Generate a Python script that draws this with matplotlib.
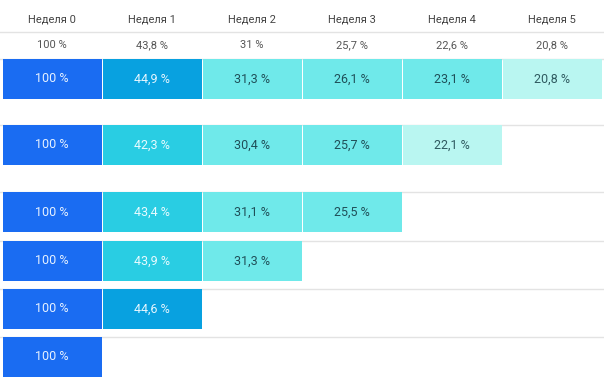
import matplotlib
matplotlib.use("Agg")
from matplotlib import pyplot as plt

# Data
# ------------------------------
weeks = ["Неделя 0", "Неделя 1", "Неделя 2", "Неделя 3", "Неделя 4", "Неделя 5"]
summary = [100, 43.8, 31, 25.7, 22.6, 20.8]
cohorts = [
    [100, 44.9, 31.3, 26.1, 23.1, 20.8],
    [100, 42.3, 30.4, 25.7, 22.1],
    [100, 43.4, 31.1, 25.5],
    [100, 43.9, 31.3],
    [100, 44.6],
    [100],
]

# Layout (pixel rows, the figure is 604x384)
row_tops = [59, 125, 192, 241, 289, 337]
bar_h = 40


def fmt(v):
    s = ("%g" % v).replace(".", ",")
    return s + " %"


def cell_style(v):
    """Return fill colour and text colour for a retention value."""
    if v >= 99:
        return "#1a6cf2", "#e6f1ff"
    if v >= 44.5:
        return "#08a1e0", "#e6f6ff"
    if v >= 35:
        return "#29cde3", "#e8fbff"
    if v >= 23:
        return "#6fe9ea", "#1f4f58"
    return "#b9f6f1", "#2f5a60"


plt.rcParams["font.family"] = ["Roboto", "DejaVu Sans"]

fig = plt.figure(figsize=(6.04, 3.84), dpi=100)
ax = fig.add_axes([0, 0, 1, 1])
ax.set_xlim(-0.02, 6.02)
ax.set_ylim(384, 0)
ax.axis("off")

# header and summary
for i, w in enumerate(weeks):
    ax.text(i + 0.5, 20, w, ha="center", va="center", fontsize=8, color="#444444")
    ax.text(i + 0.5, 45, fmt(summary[i]), ha="center", va="center",
            fontsize=8, color="#555555")
ax.axhline(32, color="#e3e3e3", lw=1, zorder=0)

# row grid lines
for top in row_tops:
    ax.axhline(top - 0.5, color="#e3e3e3", lw=1, zorder=0)

# cohort bars
for r, values in enumerate(cohorts):
    for i, v in enumerate(values):
        fill, tc = cell_style(v)
        ax.bar(i + 0.5, bar_h, width=0.99, bottom=row_tops[r], color=fill,
               zorder=2)
        ax.text(i + 0.5, row_tops[r] + bar_h / 2, fmt(v), ha="center",
                va="center", fontsize=9, color=tc, zorder=3)

fig.savefig("out.png", dpi=100)
